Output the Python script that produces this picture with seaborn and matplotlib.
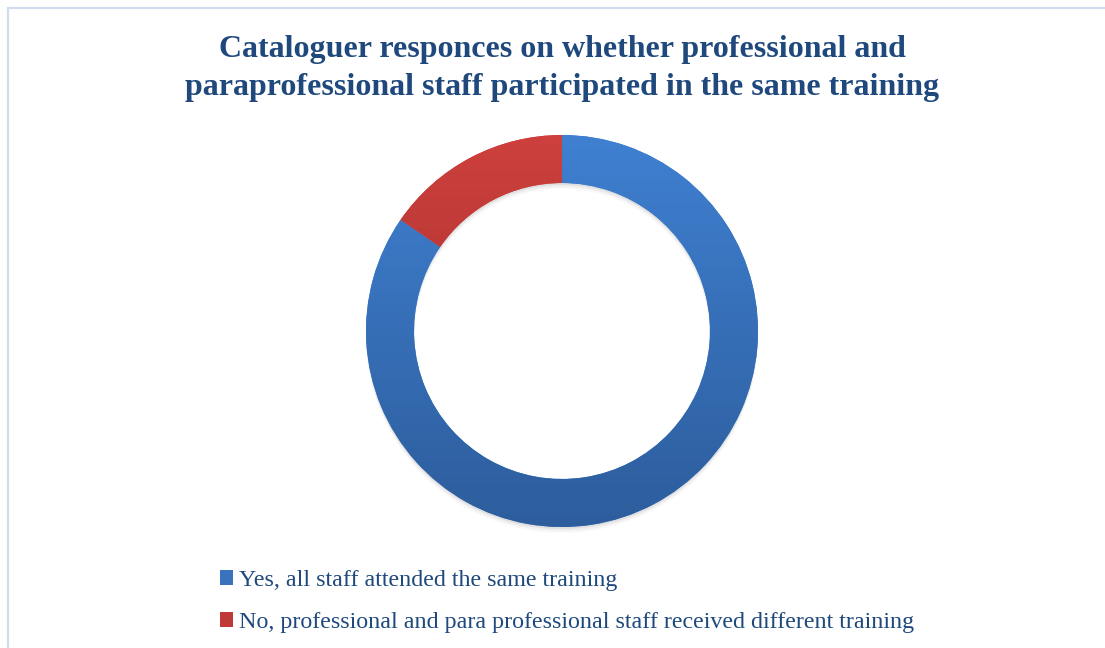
import numpy as np
import matplotlib.pyplot as plt
import seaborn as sns
from matplotlib.patches import Patch, Rectangle

labels = ["Yes, all staff attended the same training",
          "No, professional and para professional staff received different training"]
values = [84.6, 15.4]
top_colors = ["#3f80d1", "#cd403d"]
bottom_colors = ["#2d5d9c", "#9a2b29"]
title = "Cataloguer responces on whether professional and\nparaprofessional staff participated in the same training"

sns.set_style("white")
plt.rcParams["font.family"] = ["Liberation Serif", "DejaVu Serif"]

W, H = 1105, 648
fig = plt.figure(figsize=(W / 100, H / 100), dpi=100)
ax = fig.add_axes([0, 0, 1, 1])

cx, cy, R = 562, H - 331, 196
ring = 0.245

# soft shadow under the ring
for off, a in [(2, 0.10), (4, 0.06), (6, 0.03)]:
    ax.pie([1], radius=R, center=(cx, cy - off), colors=["#555555"],
           wedgeprops=dict(width=R * ring, alpha=a, linewidth=0))

wedges, _ = ax.pie(values, radius=R, center=(cx, cy), startangle=90, counterclock=False,
                   colors=top_colors, wedgeprops=dict(width=R * ring, linewidth=0))

# vertical gradient fill for each slice
for w, c1, c2 in zip(wedges, top_colors, bottom_colors):
    t = np.linspace(0, 1, 256)[:, None]
    a = np.array(plt.matplotlib.colors.to_rgb(c1))
    b = np.array(plt.matplotlib.colors.to_rgb(c2))
    grad = (a * (1 - t) + b * t)[:, None, :].repeat(2, axis=1)
    im = ax.imshow(grad, extent=[cx - R, cx + R, cy - R, cy + R], origin="upper",
                   aspect="auto", interpolation="bilinear", zorder=2)
    im.set_clip_path(w)

ax.set_xlim(0, W)
ax.set_ylim(0, H)
ax.set_aspect("equal")
ax.axis("off")

# chart border
fig.patches.append(Rectangle((8 / W, -0.1), 1.2, 1 - 8 / H + 0.1, transform=fig.transFigure,
                             fill=False, edgecolor="#d0ddef", linewidth=1.6))

fig.text(562 / W, 1 - 35 / H, title, ha="center", va="top", fontsize=23,
         fontweight="bold", color="#1f497d", linespacing=1.42)

handles = [Patch(facecolor=c, edgecolor="none") for c in ["#3a72bd", "#bf3a37"]]
leg = fig.legend(handles, labels, loc="upper left", bbox_to_anchor=(220 / W, 1 - 570 / H),
                 frameon=False, fontsize=17.3, handlelength=0.55, handleheight=0.55,
                 handletextpad=0.22, labelspacing=0.88, borderpad=0, borderaxespad=0)
for txt in leg.get_texts():
    txt.set_color("#1f497d")

fig.savefig("out.png", dpi=100)
